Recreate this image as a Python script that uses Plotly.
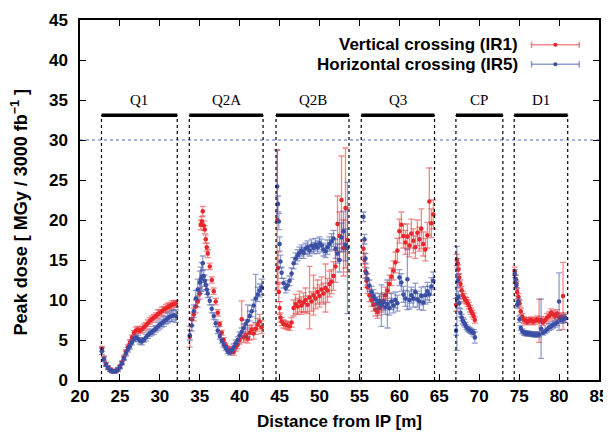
import plotly.graph_objects as go

# ---------------- data ----------------
# longitudinal position of each bin [m]
position_m = [
    # Q1
    22.75, 23.0, 23.25, 23.5, 23.75, 24.0, 24.25, 24.5, 24.75, 25.0, 25.25, 25.5, 25.75,
    26.0, 26.25, 26.5, 26.75, 27.0, 27.25, 27.5, 27.75, 28.0, 28.25, 28.5, 28.75, 29.0,
    29.25, 29.5, 29.75, 30.0, 30.25, 30.5, 30.75, 31.0, 31.25, 31.5, 31.75, 32.0,
    # Q2A
    33.75, 34.0, 34.25, 34.5, 34.75, 35.0, 35.125, 35.25, 35.375, 35.5, 35.625, 35.75,
    35.875, 36.0, 36.25, 36.5, 36.75, 37.0, 37.25, 37.5, 37.75, 38.0, 38.25, 38.5, 38.75,
    39.0, 39.25, 39.5, 39.75, 40.0, 40.25, 40.5, 40.75, 41.0, 41.25, 41.5, 41.75, 42.0,
    42.25, 42.5, 42.75,
    # Q2B
    44.7, 44.8, 44.9, 45.0, 45.1, 45.25, 45.5, 45.75, 46.0, 46.25, 46.5, 46.75, 47.0,
    47.25, 47.5, 47.75, 48.0, 48.25, 48.5, 48.75, 49.0, 49.25, 49.5, 49.75, 50.0, 50.25,
    50.5, 50.75, 51.0, 51.25, 51.5, 51.75, 52.0, 52.25, 52.5, 52.75, 53.0, 53.25, 53.5,
    # Q3
    55.5, 55.625, 55.75, 55.875, 56.0, 56.25, 56.5, 56.75, 57.0, 57.25, 57.5, 57.75,
    58.0, 58.25, 58.5, 58.75, 59.0, 59.25, 59.5, 59.75, 60.0, 60.25, 60.5, 60.75, 61.0,
    61.25, 61.5, 61.75, 62.0, 62.25, 62.5, 62.75, 63.0, 63.25, 63.5, 63.75, 64.0, 64.25,
    # CP
    67.1, 67.2, 67.3, 67.4, 67.5, 67.65, 67.8, 67.95, 68.1, 68.25, 68.4, 68.55, 68.7,
    68.85, 69.0, 69.15, 69.3, 69.45,
    # D1
    74.45, 74.55, 74.65, 74.75, 74.9, 75.05, 75.2, 75.4, 75.6, 75.8, 76.0, 76.25, 76.5,
    76.75, 77.0, 77.25, 77.5, 77.75, 78.0, 78.25, 78.5, 78.75, 79.0, 79.25, 79.5, 79.75,
    80.0, 80.25, 80.5, 80.75,
]

# Vertical crossing (IR1) peak dose [MGy / 3000 fb^-1]
ir1_dose = [
    3.9, 2.7, 2.0, 1.6, 1.3, 1.15, 1.1, 1.15, 1.35, 1.7, 2.2, 2.8, 3.5,
    4.1, 4.7, 5.3, 5.9, 6.2, 6.3, 6.2, 6.3, 6.6, 6.8, 7.1, 7.4, 7.6,
    7.8, 8.0, 8.25, 8.4, 8.6, 8.8, 8.95, 9.1, 9.25, 9.4, 9.5, 9.55,
    5.4, 7.6, 8.2, 9.2, 9.8, 10.8, 19.4, 19.8, 21.1, 19.3, 18.8, 17.6,
    16.6, 15.8, 14.2, 12.5, 11.1, 9.8, 8.4, 7.0, 5.9, 5.0, 4.3, 3.9, 3.6,
    3.8, 3.5, 4.1, 4.4, 5.0, 7.6, 5.3, 5.6, 5.2, 5.9, 6.3, 5.8, 6.4,
    6.9, 7.3, 6.6,
    20.0, 14.0, 11.0, 9.0, 7.8, 7.3, 7.0, 6.9, 6.8, 6.7, 7.2, 9.0, 9.5,
    9.2, 9.8, 9.3, 9.7, 10.0, 9.4, 10.3, 9.8, 10.6, 10.2, 11.0, 10.5, 11.3,
    10.8, 11.5, 11.2, 12.0, 12.3, 13.0, 14.2, 19.5, 18.0, 22.5, 16.5, 21.5, 17.5,
    16.4, 15.0, 13.6, 12.4, 11.6, 10.6, 10.0, 9.4, 8.8, 8.5, 9.0, 9.5,
    9.9, 10.6, 11.2, 12.0, 12.9, 13.7, 14.7, 16.2, 18.6, 19.4, 18.0, 17.2, 17.9,
    16.8, 18.3, 17.4, 16.6, 18.4, 17.6, 18.9, 17.0, 16.3, 18.1, 22.3, 19.6, 20.7,
    9.4, 15.0, 14.6, 13.8, 12.8, 12.0, 11.2, 10.6, 10.3, 10.0, 9.9, 9.6, 9.3,
    8.9, 8.6, 8.3, 8.0, 7.5,
    13.6, 12.6, 12.0, 11.0, 10.4, 9.6, 8.6, 7.9, 7.5, 7.4, 7.3, 7.4, 7.5,
    7.3, 7.4, 7.6, 7.4, 7.5, 7.2, 7.5, 7.8, 8.0, 8.4, 8.2, 8.0, 8.3,
    7.8, 7.9, 10.5, 7.8,
]
ir1_err = [
    0.3, 0.3, 0.2, 0.2, 0.2, 0.2, 0.2, 0.2, 0.2, 0.2, 0.2, 0.3, 0.3,
    0.3, 0.3, 0.3, 0.3, 0.4, 0.4, 0.3, 0.4, 0.4, 0.4, 0.4, 0.4, 0.4,
    0.4, 0.4, 0.5, 0.4, 0.5, 0.4, 0.5, 0.5, 0.4, 0.5, 0.4, 0.4,
    1.3, 0.8, 0.8, 0.8, 0.7, 0.7, 0.6, 0.6, 0.6, 0.6, 0.5, 0.5,
    0.5, 0.5, 0.4, 0.4, 0.4, 0.4, 0.4, 0.3, 0.3, 0.3, 0.3, 0.3, 0.3,
    0.4, 0.4, 0.5, 0.5, 0.5, 2.3, 0.6, 0.7, 0.6, 0.9, 0.6, 0.7, 0.7,
    0.8, 0.9, 0.8,
    8.8, 2.0, 1.2, 0.8, 0.6, 0.5, 0.5, 0.5, 0.5, 0.5, 0.6, 1.0, 1.2,
    1.0, 1.3, 1.1, 1.2, 1.5, 1.1, 3.9, 1.2, 2.5, 1.3, 1.5, 1.4, 1.6,
    1.3, 3.0, 1.5, 1.6, 1.5, 1.8, 2.0, 3.5, 3.0, 5.5, 3.5, 7.5, 4.0,
    1.0, 0.9, 0.9, 0.8, 0.8, 0.8, 0.8, 0.8, 0.8, 0.8, 0.9, 1.0,
    1.0, 1.0, 1.0, 1.1, 1.1, 1.2, 1.3, 1.5, 1.5, 1.6, 1.5, 1.5, 1.6,
    1.4, 1.8, 1.5, 1.4, 1.6, 1.5, 2.5, 1.5, 1.4, 1.6, 4.2, 1.8, 1.8,
    0.8, 0.7, 0.6, 0.6, 0.5, 0.5, 0.5, 0.5, 0.5, 0.4, 0.4, 0.4, 0.4,
    0.4, 0.4, 0.4, 0.4, 0.4,
    0.5, 0.5, 0.5, 0.5, 0.4, 0.4, 0.4, 0.4, 0.4, 0.4, 0.4, 0.4, 0.4,
    0.4, 0.4, 0.4, 2.7, 0.4, 0.4, 0.4, 0.5, 0.5, 0.5, 0.5, 0.5, 0.5,
    0.5, 0.5, 4.2, 0.6,
]

# Horizontal crossing (IR5) peak dose [MGy / 3000 fb^-1]
ir5_dose = [
    3.6, 2.6, 1.9, 1.5, 1.25, 1.1, 1.05, 1.1, 1.3, 1.6, 2.1, 2.7, 3.3,
    3.8, 4.2, 4.7, 5.1, 5.3, 5.2, 4.9, 4.8, 5.0, 5.3, 5.6, 5.85, 6.0,
    6.2, 6.4, 6.7, 6.9, 7.1, 7.3, 7.5, 7.7, 7.9, 8.0, 8.1, 8.0,
    5.6, 6.8, 8.6, 10.2, 11.3, 12.2, 12.6, 12.9, 14.6, 13.0, 12.4, 11.9,
    11.3, 10.8, 9.9, 8.9, 8.0, 7.1, 6.2, 5.5, 4.9, 4.4, 4.0, 3.6, 3.4,
    3.7, 4.1, 4.6, 5.0, 5.6, 6.0, 6.5, 7.0, 7.4, 8.0, 8.6, 9.3, 10.2,
    10.7, 11.2, 11.6,
    24.2, 22.0, 19.8, 17.0, 14.8, 13.4, 12.1, 11.5, 11.8, 12.4, 13.3, 14.6, 15.2,
    15.6, 15.9, 16.2, 15.9, 16.4, 16.6, 16.2, 16.8, 16.5, 16.9, 16.6, 17.1, 16.8,
    16.3, 16.1, 16.6, 17.0, 17.3, 17.7, 16.4, 15.8, 15.0, 17.8, 18.6, 16.9, 16.5,
    20.4, 17.6, 15.2, 13.4, 12.6, 11.8, 11.0, 10.5, 10.1, 9.6, 9.9, 9.3,
    9.7, 9.1, 9.5, 9.0, 9.8, 9.3, 10.0, 9.6, 12.8, 12.2, 10.7, 10.2, 12.6,
    10.0, 10.6, 10.2, 11.0, 10.1, 9.8, 10.5, 9.7, 10.6, 11.1, 10.7, 11.7, 12.4,
    6.2, 10.2, 12.4, 10.4, 9.6, 8.4, 7.8, 7.4, 7.2, 6.9, 6.6, 6.4, 6.3,
    6.2, 6.1, 6.0, 5.9, 5.3,
    13.3, 12.6, 11.8, 9.4, 9.8, 7.6, 6.5, 6.1, 5.9, 5.85, 5.8, 5.8, 5.75,
    5.7, 5.7, 5.65, 5.7, 6.4, 5.9, 6.1, 6.3, 6.6, 6.7, 6.9, 7.0, 7.2,
    9.8, 7.5, 7.6, 7.7,
]
ir5_err = [
    0.4, 0.3, 0.2, 0.2, 0.2, 0.2, 0.2, 0.2, 0.2, 0.2, 0.2, 0.2, 0.3,
    0.3, 0.3, 0.3, 0.3, 0.3, 0.4, 0.4, 0.4, 0.3, 0.4, 0.4, 0.4, 0.4,
    0.5, 0.4, 0.5, 0.5, 0.5, 0.6, 0.5, 0.6, 0.6, 0.7, 0.6, 0.8,
    0.6, 0.7, 0.8, 1.0, 1.3, 1.4, 1.5, 1.8, 0.9, 0.8, 0.7, 0.6,
    0.6, 0.5, 0.5, 0.5, 0.4, 0.4, 0.4, 0.4, 0.3, 0.3, 0.3, 0.3, 0.3,
    0.3, 0.4, 0.4, 0.4, 0.4, 0.5, 0.5, 0.5, 2.0, 0.6, 0.7, 0.7, 3.0,
    0.9, 0.8, 1.0,
    4.5, 1.0, 1.0, 0.9, 0.8, 0.7, 0.6, 0.6, 0.6, 0.6, 0.7, 0.7, 0.7,
    0.7, 0.7, 0.7, 0.7, 0.7, 0.8, 0.7, 0.8, 0.7, 0.8, 0.8, 0.8, 0.8,
    0.8, 0.8, 0.9, 0.9, 1.0, 1.0, 1.2, 1.2, 1.5, 1.8, 2.5, 2.0, 8.2,
    0.6, 0.6, 0.6, 0.6, 0.7, 0.7, 0.7, 0.8, 0.8, 0.8, 0.9, 2.6,
    1.0, 0.9, 3.0, 0.9, 1.0, 0.9, 1.0, 1.0, 1.0, 1.1, 1.0, 1.0, 3.8,
    1.1, 1.0, 1.1, 1.1, 1.0, 1.0, 1.1, 1.0, 1.1, 1.1, 1.0, 1.1, 1.1,
    0.6, 6.5, 0.8, 0.7, 0.6, 0.5, 0.4, 0.4, 0.4, 0.3, 0.3, 0.3, 0.3,
    0.3, 0.3, 0.3, 0.4, 0.7,
    0.5, 0.5, 0.5, 0.4, 0.4, 0.4, 0.3, 0.3, 0.3, 0.3, 0.3, 0.3, 0.3,
    0.3, 0.3, 0.3, 0.3, 3.7, 0.3, 0.3, 0.3, 0.4, 0.4, 0.4, 0.4, 0.4,
    3.6, 0.4, 0.5, 0.5,
]

# magnets: name, start, end [m]
magnet_names = ["Q1", "Q2A", "Q2B", "Q3", "CP", "D1"]
magnet_start = [22.69, 33.69, 44.55, 55.22, 67.08, 74.38]
magnet_end = [32.18, 42.93, 53.69, 64.4, 72.96, 81.08]

dose_limit = 30
series_names = ["Vertical crossing (IR1)", "Horizontal crossing (IR5)"]
x_ticks = [20, 25, 30, 35, 40, 45, 50, 55, 60, 65, 70, 75, 80, 85]
y_ticks = [0, 5, 10, 15, 20, 25, 30, 35, 40, 45]
x_title = "Distance from IP [m]"
y_title = "Peak dose [ MGy / 3000 fb<sup>−1</sup> ]"

# ---------------- styling ----------------
RED = "#e8262b"
RED_ERR = "rgba(232,38,43,0.55)"
BLUE = "#3a4ea3"
BLUE_ERR = "rgba(58,78,163,0.55)"
SANS = "Liberation Sans, Arial, sans-serif"
SERIF = "Liberation Serif, Times New Roman, serif"
BAR_Y = 33.1
LABEL_Y = 35.0

fig = go.Figure()

for dose, err, col, ecol, name in [
    (ir1_dose, ir1_err, RED, RED_ERR, series_names[0]),
    (ir5_dose, ir5_err, BLUE, BLUE_ERR, series_names[1]),
]:
    fig.add_trace(go.Scatter(
        x=position_m, y=dose, mode="markers", name=name, showlegend=False,
        marker=dict(color=col, size=4.5, line=dict(width=0)),
        error_y=dict(type="data", array=err, visible=True, color=ecol,
                     thickness=1.3, width=3),
    ))

shapes = []
annotations = []
for name, s, e in zip(magnet_names, magnet_start, magnet_end):
    shapes.append(dict(type="line", xref="x", yref="y", x0=s, x1=e, y0=BAR_Y, y1=BAR_Y,
                       line=dict(color="black", width=3.5)))
    for xb in (s, e):
        shapes.append(dict(type="line", xref="x", yref="y", x0=xb, x1=xb, y0=0, y1=BAR_Y,
                           line=dict(color="black", width=1.2, dash="dot")))
    annotations.append(dict(x=(s + e) / 2, y=LABEL_Y, xref="x", yref="y", text=name,
                            showarrow=False, font=dict(family=SERIF, size=15, color="black")))

shapes.append(dict(type="line", xref="paper", yref="y", x0=0, x1=1, y0=dose_limit, y1=dose_limit,
                   line=dict(color="#4a6cc4", width=1.2, dash="dot"), layer="below"))

# manual legend (symbol right of text, as in the original)
leg_rows = [(0.931, RED_ERR, RED, series_names[0]), (0.877, BLUE_ERR, BLUE, series_names[1])]
lx0, lx1, ltext = 0.870, 0.962, 0.848
for ly, ecol, col, name in leg_rows:
    annotations.append(dict(x=ltext, y=ly, xref="paper", yref="paper", text=name,
                            xanchor="right", yanchor="middle", showarrow=False,
                            font=dict(family=SANS, size=17, color="black", weight="bold")))
    shapes.append(dict(type="line", xref="paper", yref="paper", x0=lx0, x1=lx1, y0=ly, y1=ly,
                       line=dict(color=ecol, width=1.5)))
    for xc in (lx0, lx1):
        shapes.append(dict(type="line", xref="paper", yref="paper", x0=xc, x1=xc,
                           y0=ly - 0.009, y1=ly + 0.009, line=dict(color=ecol, width=1.5)))
    xm = (lx0 + lx1) / 2
    shapes.append(dict(type="circle", xref="paper", yref="paper",
                       x0=xm - 0.004, x1=xm + 0.004, y0=ly - 0.0055, y1=ly + 0.0055,
                       fillcolor=col, line=dict(color=col, width=0)))

# y-axis title as a rotated annotation (placed like the original, slightly below centre)
annotations.append(dict(x=-0.116, y=0.465, xref="paper", yref="paper", text=y_title,
                        textangle=-90, showarrow=False, xanchor="center", yanchor="middle",
                        font=dict(family=SANS, size=18, color="black", weight="bold")))

axis_common = dict(
    showline=True, linecolor="black", linewidth=1.5, mirror="ticks",
    ticks="inside", ticklen=6, tickwidth=1.2, tickcolor="black",
    showgrid=False, zeroline=False, automargin=False,
    tickfont=dict(family=SANS, size=17, color="black", weight="bold"),
)

# the page body adds an 8 px offset, so the figure is 8 px smaller than the window
fig.update_layout(
    width=603, height=425,
    margin=dict(l=72, r=12, t=12, b=53),
    paper_bgcolor="white", plot_bgcolor="white",
    shapes=shapes, annotations=annotations,
    xaxis=dict(range=[20, 85], tickvals=x_ticks, ticklabelstandoff=0,
               title=dict(text=x_title, standoff=10,
                          font=dict(family=SANS, size=17, color="black", weight="bold")),
               **axis_common),
    yaxis=dict(range=[0, 45], tickvals=y_ticks, ticklabelstandoff=7, **axis_common),
)

fig.write_html("out.html")
